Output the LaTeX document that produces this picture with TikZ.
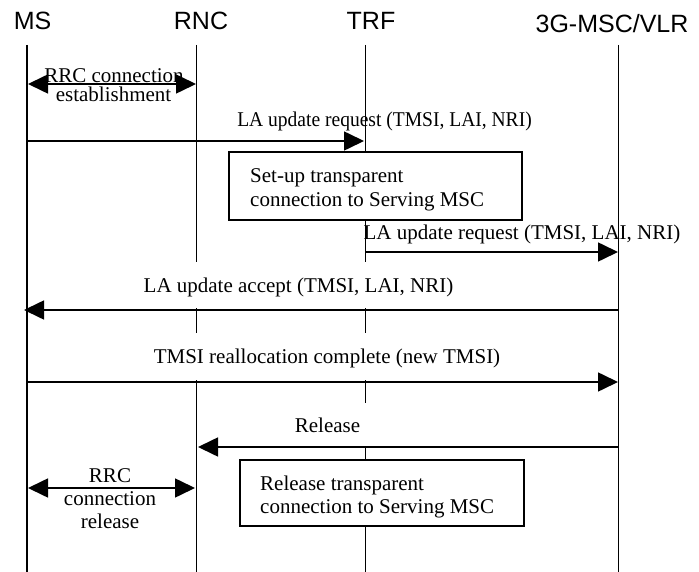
\documentclass[tikz,border=0pt]{standalone}
\usepackage{fontspec}
\usepackage{graphicx}
\setmainfont{Liberation Serif}
\newfontfamily\hdrfont{Liberation Sans}
\usetikzlibrary{arrows.meta}
\begin{document}
\begin{tikzpicture}[x=1pt,y=-1pt,
  life/.style={line width=1.8pt},
  msg/.style={line width=1.6pt,-{Triangle[length=20pt,width=19pt]}},
  dmsg/.style={line width=1.6pt,{Triangle[length=20pt,width=19pt]}-{Triangle[length=20pt,width=19pt]}},
  hdr/.style={font=\hdrfont\fontsize{25}{28}\selectfont, inner sep=0pt, anchor=base},
  lbl/.style={font=\fontsize{21}{24}\selectfont, inner sep=0pt, anchor=base},
  boxtext/.style={lbl, anchor=base west},
  procbox/.style={draw, line width=1.6pt, fill=white, inner sep=0pt}
]
\useasboundingbox (0,0) rectangle (699,572);

% headers
\node[hdr] (hms) at (32.5,30) {MS};
\node[hdr] (hrnc) at (201,30) {RNC};
\node[hdr] (htrf) at (371,30) {TRF};
\node[hdr] (hmsc) at (612,33) {3G-MSC/VLR};

% lifelines
\draw[life] (27,45) -- (27,572);
\draw[life] (196.5,45) -- (196.5,262);
\draw[life] (196.5,308) -- (196.5,333);
\draw[life] (196.5,380) -- (196.5,572);
\draw[life] (365.5,45) -- (365.5,262);
\draw[life] (365.5,308) -- (365.5,333);
\draw[life] (365.5,380) -- (365.5,403);
\draw[life] (365.5,447) -- (365.5,572);
\draw[life] (618.5,45) -- (618.5,572);

% boxes
\node[procbox, minimum width=293pt, minimum height=68pt] (setup) at (375.5,186) {};
\node[boxtext] (setup1) at (250,183) {Set-up transparent};
\node[boxtext] (setup2) at (250,207) {connection to Serving MSC};
\node[procbox, minimum width=284pt, minimum height=66pt] (relbox) at (382,493) {};
\node[boxtext] (rel1) at (260,490) {Release transparent};
\node[boxtext] (rel2) at (260,513) {connection to Serving MSC};

% coordinates for message ends
\coordinate (m1a) at (28,84);   \coordinate (m1b) at (196,84);
\coordinate (m2a) at (27,141);  \coordinate (m2b) at (364,141);
\coordinate (m3a) at (365.5,252); \coordinate (m3b) at (618,252);
\coordinate (m4a) at (618.5,310); \coordinate (m4b) at (24,310);
\coordinate (m5a) at (27,382);  \coordinate (m5b) at (618,382);
\coordinate (m6a) at (618.5,447); \coordinate (m6b) at (198,447);
\coordinate (m7a) at (28,488);  \coordinate (m7b) at (195,488);

% messages
\draw[dmsg] (m1a) -- (m1b);
\node[lbl] (l1a) at (114,83) {RRC connection};
\node[lbl] (l1b) at (113.5,102) {establishment};

\draw[msg] (m2a) -- (m2b);
\node[lbl] (l2) at (384.5,127) {\scalebox{0.93}[1]{LA update request (TMSI, LAI, NRI)}};

\draw[msg] (m3a) -- (m3b);
\node[lbl] (l3) at (522,240) {LA update request (TMSI, LAI, NRI)};

\draw[msg] (m4a) -- (m4b);
\node[lbl] (l4) at (298.5,292) {LA update accept (TMSI, LAI, NRI)};

\draw[msg] (m5a) -- (m5b);
\node[lbl] (l5) at (327,363) {TMSI reallocation complete (new TMSI)};

\draw[msg] (m6a) -- (m6b);
\node[lbl] (l6) at (327.5,432) {Release};

\draw[dmsg] (m7a) -- (m7b);
\node[lbl] (l7a) at (110,482) {RRC};
\node[lbl] (l7b) at (110,505) {connection};
\node[lbl] (l7c) at (110,528) {release};
\end{tikzpicture}
\end{document}
